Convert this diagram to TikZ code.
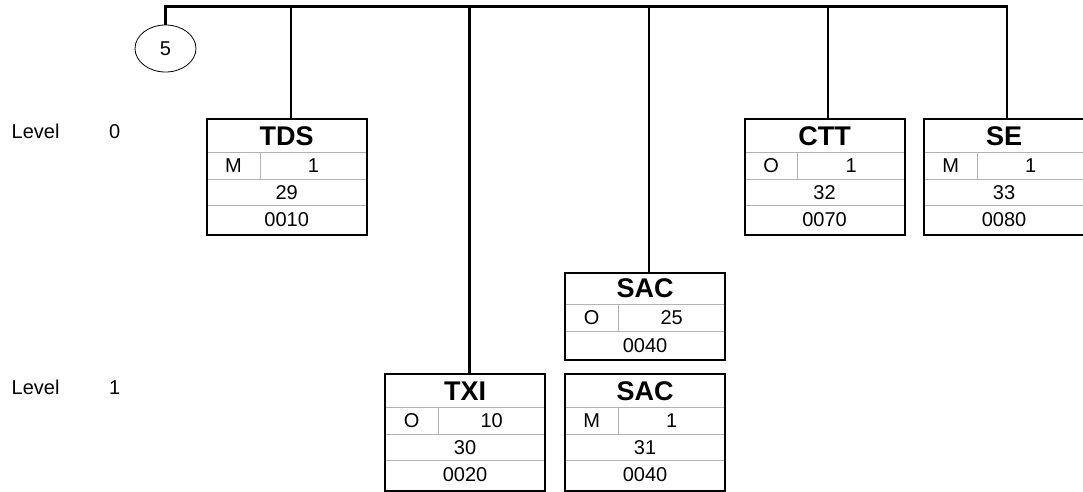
\documentclass[tikz,border=0pt]{standalone}
\usepackage{fontspec}
\setmainfont{Liberation Sans}
\usetikzlibrary{shapes.geometric}
\tikzset{
  boxline/.style={draw=black, line width=2pt},
  div/.style={draw=black!30, line width=1pt},
  conn/.style={draw=black, line width=2.2pt, line join=miter},
  ttl/.style={font=\fontsize{27}{32}\selectfont\bfseries, inner sep=0pt},
  txt/.style={font=\fontsize{20}{24}\selectfont, inner sep=0pt},
  frame/.style={rectangle, inner sep=0pt, minimum width=160pt, anchor=north west},
}
% name, x, y, title, status, repeat, number, position
\newcommand\segfour[8]{%
  \node[frame, minimum height=116pt] (#1) at (#2,#3) {};
  \draw[div] ([yshift=-33.5pt]#1.north west) -- ([yshift=-33.5pt]#1.north east);
  \draw[div] ([yshift=-60pt]#1.north west) -- ([yshift=-60pt]#1.north east);
  \draw[div] ([yshift=-86.5pt]#1.north west) -- ([yshift=-86.5pt]#1.north east);
  \draw[div] ([xshift=53.3pt,yshift=-33.5pt]#1.north west) -- ([xshift=53.3pt,yshift=-60pt]#1.north west);
  \node[ttl] (#1t) at ([xshift=80pt,yshift=-16.9pt]#1.north west) {#4};
  \node[txt] (#1s) at ([xshift=26.65pt,yshift=-46.75pt]#1.north west) {#5};
  \node[txt] (#1r) at ([xshift=106.65pt,yshift=-46.75pt]#1.north west) {#6};
  \node[txt] (#1n) at ([xshift=80pt,yshift=-73.6pt]#1.north west) {#7};
  \node[txt] (#1p) at ([xshift=80pt,yshift=-100.8pt]#1.north west) {#8};
  \draw[boxline] (#1.north west) rectangle (#1.south east);
}
% name, x, y, title, status, repeat, position
\newcommand\segthree[7]{%
  \node[frame, minimum height=87.3pt] (#1) at (#2,#3) {};
  \draw[div] ([yshift=-31.6pt]#1.north west) -- ([yshift=-31.6pt]#1.north east);
  \draw[div] ([yshift=-58.3pt]#1.north west) -- ([yshift=-58.3pt]#1.north east);
  \draw[div] ([xshift=53.3pt,yshift=-31.6pt]#1.north west) -- ([xshift=53.3pt,yshift=-58.3pt]#1.north west);
  \node[ttl] (#1t) at ([xshift=80pt,yshift=-16pt]#1.north west) {#4};
  \node[txt] (#1s) at ([xshift=26.65pt,yshift=-45pt]#1.north west) {#5};
  \node[txt] (#1r) at ([xshift=106.65pt,yshift=-45pt]#1.north west) {#6};
  \node[txt] (#1p) at ([xshift=80pt,yshift=-72.6pt]#1.north west) {#7};
  \draw[boxline] (#1.north west) rectangle (#1.south east);
}
\begin{document}
\begin{tikzpicture}[x=1pt,y=-1pt]
\useasboundingbox (0,0) rectangle (1083,492);

% level labels
\node[txt, anchor=base west] (lv0) at (11.5,138) {Level};
\node[txt, anchor=base west] (lv0n) at (109,138) {0};
\node[txt, anchor=base west] (lv1) at (11.5,394) {Level};
\node[txt, anchor=base west] (lv1n) at (109,394) {1};

% group circle
\node[draw, ellipse, line width=0.8pt, minimum width=61pt, minimum height=47pt, inner sep=0pt,
      font=\fontsize{20}{24}\selectfont] (c5) at (165.5,48.5) {5};

% boxes
\segfour{tds}{206.7}{119}{TDS}{M}{1}{29}{0010}
\segfour{ctt}{744.5}{119}{CTT}{O}{1}{32}{0070}
\segfour{se}{924}{119}{SE}{M}{1}{33}{0080}
\segthree{sacA}{565}{272.7}{SAC}{O}{25}{0040}
\segfour{txi}{385}{374.3}{TXI}{O}{10}{30}{0020}
\segfour{sacB}{565}{374.3}{SAC}{M}{1}{31}{0040}

% bus
\coordinate (b0) at (165.5,6.5);
\coordinate (bE) at (1007,6.5);
\coordinate (t1) at (291,6.5);
\coordinate (t2) at (469.5,6.5);
\coordinate (t3) at (649,6.5);
\coordinate (t4) at (828,6.5);

\draw[conn] (c5.north) -- (b0) -- (bE) -- (bE |- se.north);
\draw[conn] (t1) -- (t1 |- tds.north);
\draw[conn] (t2) -- (t2 |- txi.north);
\draw[conn] (t3) -- (t3 |- sacA.north);
\draw[conn] (t4) -- (t4 |- ctt.north);
\end{tikzpicture}
\end{document}
